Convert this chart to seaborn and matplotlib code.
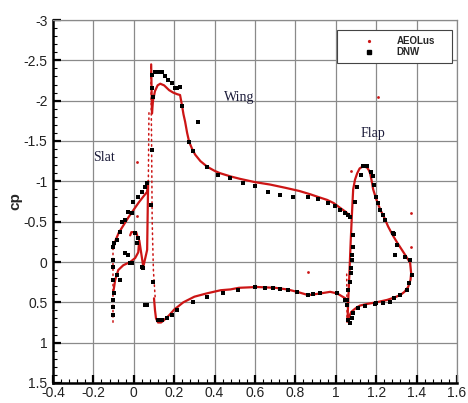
import numpy as np
import pandas as pd
import seaborn as sns
import matplotlib
matplotlib.use("Agg")
import matplotlib.pyplot as plt
from matplotlib.lines import Line2D
from matplotlib.ticker import MultipleLocator, FuncFormatter

# ---------------- data ----------------
# AEOLus (red) - computed cp distribution, drawn as lines
slat_x = [-0.100, -0.092, -0.077, -0.052, -0.018, 0.007, 0.022, 0.027, 0.047, 0.066, 0.071,
          0.066, 0.050, 0.025, 0.000, -0.025, -0.050, -0.075, -0.090, -0.102]
slat_cp = [0.35, 0.22, 0.10, 0.04, 0.00, -0.05, -0.12, -0.27, 0.06, -0.15, -1.00,
           -0.87, -0.82, -0.74, -0.65, -0.56, -0.46, -0.36, -0.27, -0.17]
hook_x = [-0.018, -0.012, 0.012, 0.020]
hook_cp = [-0.33, -0.37, -0.37, -0.30]

wing_up_x = [0.086, 0.090, 0.095, 0.105, 0.118, 0.131, 0.150, 0.175, 0.195, 0.215, 0.229,
             0.238, 0.246, 0.254, 0.264, 0.274, 0.289, 0.304, 0.330, 0.364, 0.400, 0.428,
             0.480, 0.527, 0.600, 0.675, 0.750, 0.820, 0.873, 0.920, 0.957, 0.990, 1.022,
             1.050, 1.071]
wing_up_cp = [-2.45, -1.84, -2.00, -2.12, -2.19, -2.21, -2.19, -2.13, -2.10, -2.08, -2.07,
              -1.95, -1.83, -1.74, -1.60, -1.49, -1.40, -1.33, -1.25, -1.18, -1.13, -1.10,
              -1.06, -1.03, -0.99, -0.96, -0.92, -0.88, -0.84, -0.80, -0.77, -0.73, -0.67,
              -0.62, -0.57]
wing_lo_x = [0.100, 0.105, 0.110, 0.120, 0.135, 0.150, 0.175, 0.200, 0.245, 0.300, 0.360,
             0.430, 0.478, 0.520, 0.611, 0.700, 0.760, 0.809, 0.863, 0.923, 0.972, 1.007,
             1.047, 1.062]
wing_lo_cp = [0.45, 0.60, 0.70, 0.75, 0.75, 0.72, 0.66, 0.59, 0.50, 0.43, 0.39,
              0.35, 0.34, 0.32, 0.31, 0.32, 0.34, 0.37, 0.41, 0.39, 0.37, 0.39,
              0.45, 0.50]

flap_x = [1.058, 1.062, 1.068, 1.074, 1.080, 1.086, 1.095, 1.106, 1.118, 1.131, 1.145,
          1.155, 1.163, 1.170, 1.178, 1.185, 1.200, 1.220, 1.240, 1.259, 1.280, 1.304,
          1.330, 1.358, 1.368, 1.373, 1.370, 1.358, 1.340, 1.319, 1.290, 1.254, 1.200,
          1.155, 1.120, 1.106, 1.090, 1.076, 1.066, 1.058]
flap_cp = [0.72, 0.45, 0.10, -0.27, -0.60, -0.90, -1.02, -1.10, -1.16, -1.18, -1.18,
           -1.17, -1.14, -1.10, -1.00, -0.90, -0.78, -0.65, -0.55, -0.44, -0.34, -0.24,
           -0.14, -0.03, 0.01, 0.14, 0.22, 0.31, 0.37, 0.41, 0.44, 0.47, 0.50,
           0.52, 0.54, 0.56, 0.59, 0.62, 0.68, 0.72]

# dotted leading-edge point columns of the AEOLus data
dot_segments = [
    ([0.084, 0.088, 0.091, 0.097, 0.106], [-2.42, -1.50, -0.50, 0.10, 0.45]),
    ([0.075, 0.072], [-1.85, -1.00]),
    ([-0.102, -0.102], [-0.17, 0.76]),
    ([1.054, 1.056], [0.15, 0.76]),
]
red_iso_x = [0.017, 0.017, 1.210, 0.864, 1.076, 1.370, 1.370]
red_iso_cp = [-1.24, -0.57, -2.05, 0.12, -1.13, -0.61, -0.19]

# DNW (black) - experimental points
dnw_x = [
    # slat upper
    -0.102, -0.100, -0.082, -0.067, -0.057, -0.043, -0.028, -0.008, -0.003, 0.022, 0.042, 0.056, 0.066,
    # slat lower / cove
    -0.102, -0.102, -0.102, -0.097, -0.102, -0.102, -0.102, -0.082, -0.067, -0.043, -0.028,
    -0.018, -0.008, 0.017, 0.007, 0.022, 0.042, 0.047,
    # wing upper
    0.091, 0.106, 0.121, 0.141, 0.156, 0.170, 0.190, 0.205, 0.215, 0.230, 0.240, 0.274, 0.294,
    0.364, 0.418, 0.478, 0.542, 0.601, 0.666, 0.725, 0.790, 0.864, 0.913, 0.962, 0.997, 1.022,
    1.047, 1.062, 1.071,
    # wing leading edge / outliers
    0.091, 0.095, 0.091, 0.086, 0.320, 0.055, 0.065,
    # wing lower
    0.096, 0.121, 0.141, 0.165, 0.190, 0.215, 0.294, 0.364, 0.443, 0.517, 0.601, 0.651, 0.691,
    0.725, 0.764, 0.809, 0.864, 0.888, 0.923, 1.007, 1.047,
    # flap upper
    1.106, 1.096, 1.086, 1.086, 1.081, 1.081, 1.076, 1.076, 1.071, 1.061, 1.056,
    1.126, 1.136, 1.156, 1.176, 1.186, 1.191, 1.201, 1.211, 1.221, 1.236, 1.246, 1.281, 1.286,
    1.305, 1.295, 1.345, 1.368,
    # flap lower
    1.378, 1.363, 1.353, 1.319, 1.286, 1.236, 1.196, 1.146, 1.111, 1.086, 1.081, 1.071, 1.061,
    1.056, 1.269, 1.201,
]
dnw_cp = [
    -0.19, -0.24, -0.27, -0.37, -0.50, -0.52, -0.62, -0.61, -0.75, -0.81, -0.87, -0.93, -0.98,
    -0.02, 0.06, 0.22, 0.39, 0.47, 0.56, 0.66, 0.16, 0.22, -0.11, -0.09,
    0.01, 0.01, -0.24, -0.36, -0.30, 0.06, 0.08,
    -2.32, -2.35, -2.36, -2.35, -2.30, -2.26, -2.22, -2.16, -2.16, -2.17, -1.93, -1.49, -1.37,
    -1.18, -1.08, -1.04, -0.98, -0.94, -0.87, -0.83, -0.80, -0.80, -0.78, -0.73, -0.70, -0.65,
    -0.61, -0.58, -0.56,
    -2.16, -2.05, -1.39, -0.71, -1.73, 0.53, 0.53,
    0.25, 0.72, 0.72, 0.70, 0.66, 0.60, 0.50, 0.43, 0.39, 0.35, 0.31, 0.32, 0.32,
    0.34, 0.35, 0.37, 0.41, 0.40, 0.39, 0.39, 0.47,
    -0.93, -0.75, -0.34, -0.19, -0.09, -0.02, 0.07, 0.14, 0.25, 0.35, 0.47,
    -1.08, -1.19, -1.19, -1.12, -1.06, -0.96, -0.81, -0.73, -0.65, -0.58, -0.52, -0.36, -0.35,
    -0.21, -0.09, -0.06, -0.02,
    0.16, 0.26, 0.35, 0.41, 0.45, 0.51, 0.52, 0.55, 0.57, 0.63, 0.70, 0.75, 0.72,
    0.53, 0.50, 0.51,
]

labels = [("Slat", -0.15, -1.30), ("Wing", 0.52, -2.04), ("Flap", 1.185, -1.59)]

# ---------------- figure ----------------
sns.set_theme(style="white")
plt.rcParams["font.family"] = ["Liberation Sans", "DejaVu Sans"]

RED = "#cc1515"
fig = plt.figure(figsize=(4.68, 4.03), dpi=100)
ax = fig.add_axes([53 / 468, 1 - 383 / 403, 404 / 468, 363 / 403])

for xs, ys in [(slat_x, slat_cp), (hook_x, hook_cp), (wing_up_x, wing_up_cp),
               (wing_lo_x, wing_lo_cp), (flap_x, flap_cp)]:
    sns.lineplot(x=xs, y=ys, sort=False, estimator=None, color=RED, lw=1.6, ax=ax,
                 zorder=3)
for xs, ys in dot_segments:
    sns.lineplot(x=xs, y=ys, sort=False, estimator=None, color=RED, lw=1.1,
                 linestyle=(0, (1, 2.4)), dash_capstyle="round", ax=ax, zorder=3)
sns.scatterplot(x=red_iso_x, y=red_iso_cp, color=RED, s=4, linewidth=0, ax=ax, zorder=3)
sns.scatterplot(x=dnw_x, y=dnw_cp, color="black", marker="s", s=7, linewidth=0, ax=ax,
                zorder=4)

ax.set_xlim(-0.4, 1.6)
ax.set_ylim(1.5, -3)

ax.xaxis.set_major_locator(MultipleLocator(0.2))
ax.xaxis.set_minor_locator(MultipleLocator(0.04))
ax.yaxis.set_major_locator(MultipleLocator(0.5))
ax.yaxis.set_minor_locator(MultipleLocator(0.1))
fmt = FuncFormatter(lambda v, p: ("%g" % round(v, 3)) if abs(v) > 1e-9 else "0")
ax.xaxis.set_major_formatter(fmt)
ax.yaxis.set_major_formatter(fmt)

ax.grid(True, which="major", color="#8a8a8a", lw=0.9)
ax.set_axisbelow(True)
ax.tick_params(which="major", direction="in", length=6, width=1.6, color="black",
               labelsize=10, labelcolor="#222222", bottom=True, left=True, top=False,
               right=False)
ax.tick_params(axis="y", which="major", pad=4)
ax.tick_params(axis="x", which="major", pad=2.5)
ax.tick_params(which="minor", direction="in", length=3, width=0.8, color="black",
               bottom=True, left=True, top=False, right=False)

for s in ["left", "bottom"]:
    ax.spines[s].set_color("black")
    ax.spines[s].set_linewidth(1.8)
for s in ["top", "right"]:
    ax.spines[s].set_color("#8a8a8a")
    ax.spines[s].set_linewidth(0.9)

ax.set_ylabel("cp", fontsize=11, fontweight="bold", labelpad=1)
ax.set_xlabel("x", fontsize=11, fontweight="bold", labelpad=1)

for t, x, y in labels:
    ax.text(x, y, t, family=["Liberation Serif", "DejaVu Serif"], fontsize=10,
            color="#1c1c3a", ha="center", va="center")

handles = [Line2D([], [], ls="none", marker="o", ms=1.3, mfc=RED, mec=RED),
           Line2D([], [], ls="none", marker="s", ms=2.2, mfc="black", mec="black")]
leg = ax.legend(handles, ["AEOLus", "DNW"], loc="upper left",
                bbox_to_anchor=(0.703, 0.884, 0.285, 0.088), mode="expand",
                borderaxespad=0, frameon=True,
                fancybox=False, shadow=False, handlelength=5.2, handletextpad=0.3,
                borderpad=0.65, labelspacing=0.05, prop={"size": 7, "weight": "bold"})
leg.get_frame().set_edgecolor("#444444")
leg.get_frame().set_linewidth(0.8)
leg.get_frame().set_facecolor("white")
leg.get_frame().set_alpha(1)

fig.savefig("out.png", dpi=100)
